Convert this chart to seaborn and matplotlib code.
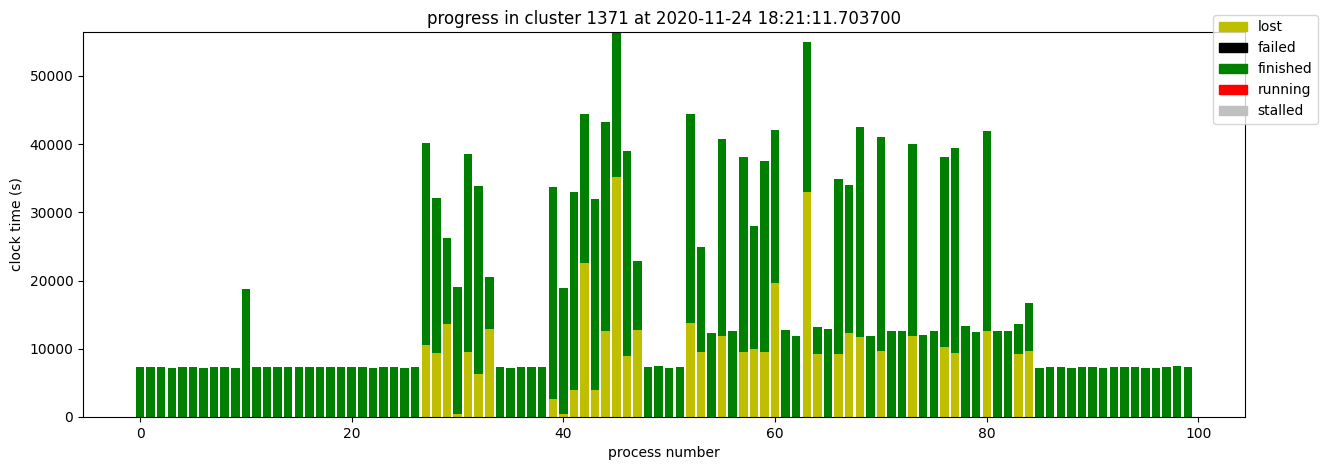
#!/usr/bin/env python3
# coding=utf-8
import numpy as np
import pandas as pd
import matplotlib
matplotlib.use('Agg')
import matplotlib.pyplot as plt
import matplotlib.patches as mpatches
import seaborn as sns

# clock time (s) per process, by state
process = list(range(100))

lost = [0] * 27 + [
    10560, 9380, 13640, 440, 9530, 6300, 12900, 0, 0, 0,
    0, 0, 2640, 440, 3960, 22580, 3960, 12610, 35190, 8940,
    12760, 0, 0, 0, 0, 13780, 9530, 0, 11880, 0,
    9530, 9970, 9530, 19650, 0, 0, 32990, 9240, 0, 9240,
    12320, 11730, 0, 9680, 0, 0, 11880, 0, 0, 10260,
    9380, 0, 0, 12610, 0, 0, 9240, 9680,
] + [0] * 15

total = [
    7330, 7330, 7330, 7180, 7330, 7330, 7180, 7330, 7330, 7180,
    18770, 7330, 7330, 7330, 7330, 7330, 7330, 7330, 7330, 7330,
    7330, 7330, 7180, 7330, 7330, 7180, 7330, 40180, 32110, 26250,
    19060, 38560, 33870, 20530, 7330, 7180, 7330, 7330, 7330, 33720,
    18910, 32990, 44430, 31960, 43260, 56450, 39000, 22870, 7330, 7480,
    7180, 7330, 44430, 24930, 12320, 40760, 12610, 38120, 28000, 37540,
    42080, 12760, 11880, 54990, 13200, 12900, 34900, 34020, 42520, 11880,
    41060, 12610, 12610, 40030, 12020, 12610, 38120, 39440, 13340, 12460,
    41940, 12610, 12610, 13640, 16720, 7180, 7330, 7330, 7180, 7330,
    7330, 7180, 7330, 7330, 7330, 7180, 7180, 7330, 7480, 7330,
]

failed = [0] * 100
finished = [t - l for t, l in zip(total, lost)]
running = [0] * 100
stalled = [0] * 100

states = ['lost', 'failed', 'finished', 'running', 'stalled']
colors = ['y', 'k', 'g', 'r', 'silver']

df = pd.concat([
    pd.DataFrame({'process': process, 'time': vals, 'state': name})
    for name, vals in zip(states, [lost, failed, finished, running, stalled])
])

fig = plt.figure(figsize=(13.3, 4.7), dpi=100)
ax = fig.add_axes([0.0624, 0.113, 0.8736, 0.819])

# histplot stacks the first hue level on top, so reverse to keep 'lost' at bottom
sns.histplot(data=df, x='process', weights='time', hue='state',
             hue_order=states[::-1], palette=dict(zip(states, colors)),
             multiple='stack', discrete=True, shrink=0.8,
             alpha=1, linewidth=0, legend=False, ax=ax)

ax.set_ylim(0, max(total))
ax.set_xlabel('process number')
ax.set_ylabel('clock time (s)')
ax.set_title('progress in cluster 1371 at 2020-11-24 18:21:11.703700')

handles = [mpatches.Patch(color=c, label=s) for s, c in zip(states, colors)]
fig.legend(handles=handles, loc='upper right', bbox_to_anchor=(0.9962, 0.983))

fig.savefig('out.png', dpi=100)
